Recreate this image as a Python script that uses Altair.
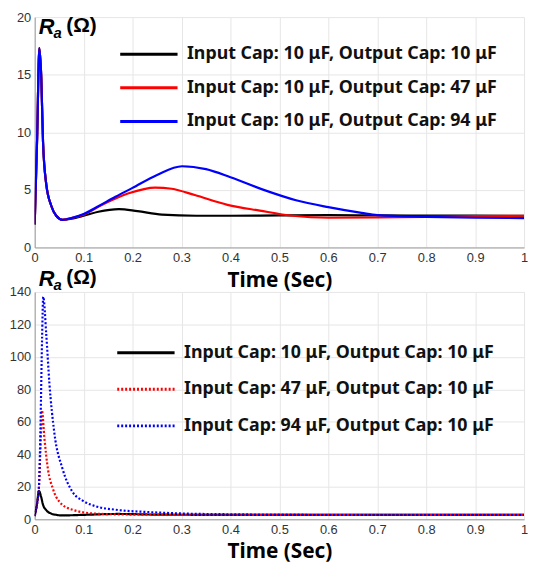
import altair as alt
import pandas as pd

# ---------------- data ----------------
labels_top = [
    "Input Cap: 10 μF, Output Cap: 10 μF",
    "Input Cap: 10 μF, Output Cap: 47 μF",
    "Input Cap: 10 μF, Output Cap: 94 μF",
]
labels_bot = [
    "Input Cap: 10 μF, Output Cap: 10 μF",
    "Input Cap: 47 μF, Output Cap: 10 μF",
    "Input Cap: 94 μF, Output Cap: 10 μF",
]

# top panel
t_top_black = [0.0, 0.005, 0.0095, 0.0135, 0.017, 0.0236, 0.034, 0.044, 0.057, 0.075, 0.10,
               0.13, 0.172, 0.21, 0.26, 0.33, 0.40, 0.50, 0.60, 0.70, 0.80, 0.90, 1.0]
v_top_black = [2.0, 9.5, 17.3, 14.7, 9.2, 5.5, 3.6, 2.75, 2.4, 2.5, 2.75,
               3.1, 3.33, 3.15, 2.85, 2.75, 2.75, 2.78, 2.8, 2.78, 2.77, 2.76, 2.75]

t_top_red = [0.0, 0.005, 0.0095, 0.0135, 0.017, 0.0236, 0.034, 0.044, 0.057, 0.075, 0.10,
             0.138, 0.192, 0.246, 0.28, 0.327, 0.394, 0.46, 0.527, 0.60, 0.70, 0.80, 0.90, 1.0]
v_top_red = [2.0, 9.5, 17.3, 14.7, 9.2, 5.5, 3.6, 2.75, 2.4, 2.55, 2.85,
             3.7, 4.7, 5.2, 5.1, 4.55, 3.7, 3.2, 2.75, 2.58, 2.6, 2.65, 2.72, 2.75]

t_top_blue = [0.0, 0.005, 0.0095, 0.0135, 0.017, 0.0236, 0.034, 0.044, 0.057, 0.075, 0.10,
              0.131, 0.165, 0.199, 0.25, 0.301, 0.35, 0.40, 0.468, 0.534, 0.60, 0.668, 0.70, 0.80, 0.90, 1.0]
v_top_blue = [2.0, 9.5, 17.3, 14.7, 9.2, 5.5, 3.6, 2.75, 2.4, 2.55, 2.9,
              3.6, 4.4, 5.15, 6.3, 7.05, 6.8, 6.1, 5.0, 4.1, 3.5, 3.0, 2.8, 2.65, 2.58, 2.55]

# bottom panel
t_bot_black = [0.0, 0.0045, 0.0087, 0.013, 0.017, 0.024, 0.034, 0.045, 0.057, 0.10,
               0.17, 0.26, 0.40, 0.60, 0.80, 1.0]
v_bot_black = [2.0, 9.0, 17.5, 14.0, 9.0, 5.5, 3.5, 2.7, 2.4, 2.75,
               3.3, 2.85, 2.75, 2.78, 2.77, 2.75]

t_bot_red = [0.0, 0.0045, 0.0087, 0.012, 0.0148, 0.020, 0.027, 0.037, 0.05, 0.077,
             0.125, 0.20, 0.30, 0.50, 0.70, 1.0]
v_bot_red = [2.0, 9.0, 20.0, 45.0, 67.0, 49.5, 31.0, 19.0, 11.0, 5.9,
             3.5, 2.9, 2.75, 2.7, 2.7, 2.7]

t_bot_blue = [0.0, 0.0045, 0.0087, 0.012, 0.015, 0.0175, 0.0236, 0.030, 0.040, 0.057,
              0.077, 0.098, 0.125, 0.165, 0.23, 0.30, 0.40, 0.50, 0.70, 1.0]
v_bot_blue = [2.0, 9.0, 20.0, 60.0, 110.0, 137.0, 114.0, 84.0, 53.6, 31.0,
              17.0, 11.5, 8.0, 5.9, 4.5, 3.6, 3.1, 2.9, 2.75, 2.7]

x_ticks = [0, 0.1, 0.2, 0.3, 0.4, 0.5, 0.6, 0.7, 0.8, 0.9, 1]
y_ticks_top = [0, 5, 10, 15, 20]
y_ticks_bot = [0, 20, 40, 60, 80, 100, 120, 140]
colors = ["#000000", "#ff0000", "#0000ff"]


def frame(ts, vs, label):
    return pd.DataFrame({"t": ts, "v": vs, "series": label})


top_df = pd.concat([
    frame(t_top_black, v_top_black, labels_top[0]),
    frame(t_top_red, v_top_red, labels_top[1]),
    frame(t_top_blue, v_top_blue, labels_top[2]),
])
bot_df = pd.concat([
    frame(t_bot_black, v_bot_black, labels_bot[0]),
    frame(t_bot_red, v_bot_red, labels_bot[1]),
    frame(t_bot_blue, v_bot_blue, labels_bot[2]),
])

# ---------------- styling ----------------
W = 495
H_TOP = 233
H_BOT = 230
GRID = "#e6e6e6"
DOMAIN = "#9a9a9a"
LABEL = "#333333"
TITLE_FONT = "Noto Sans"
TICK_FONT = "Liberation Sans"


def x_axis():
    return alt.Axis(values=x_ticks, format="~g", grid=True, gridColor=GRID,
                    domainColor=DOMAIN, ticks=False, labelFontSize=13,
                    labelColor=LABEL, labelFont=TICK_FONT, labelPadding=4,
                    labelFlush=False,
                    title="Time (Sec)", titleFontSize=21, titleFontWeight="bold",
                    titleColor="#000000", titleFont=TITLE_FONT, titlePadding=5)


def y_axis(vals):
    return alt.Axis(values=vals, grid=True, gridColor=GRID, domainColor=DOMAIN,
                    ticks=False, labelFontSize=13, labelColor=LABEL,
                    labelFont=TICK_FONT, labelPadding=4, title=None)


def legend(x, y, row_pad):
    # long horizontal line symbol drawn with a custom path on a small symbol size
    return alt.Legend(title=None, orient="none", legendX=x, legendY=y,
                      symbolType="M-2.9,0H2.9", symbolSize=400, symbolStrokeWidth=3,
                      labelFontSize=18, labelFontWeight="bold", labelFont=TITLE_FONT,
                      labelColor="#111111", labelOffset=27, labelLimit=500,
                      rowPadding=row_pad)


def ra_label(dy):
    r = alt.Chart(pd.DataFrame({"k": [0]})).mark_text(
        text="R", font="Liberation Sans", fontSize=22, fontStyle="italic",
        fontWeight="bold", align="left", baseline="alphabetic", color="#000000"
    ).encode(x=alt.value(4), y=alt.value(17 + dy))
    a = alt.Chart(pd.DataFrame({"k": [0]})).mark_text(
        text="a", font="Liberation Sans", fontSize=15, fontStyle="italic",
        fontWeight="bold", align="left", baseline="alphabetic", color="#000000"
    ).encode(x=alt.value(19), y=alt.value(21 + dy))
    om = alt.Chart(pd.DataFrame({"k": [0]})).mark_text(
        text="(Ω)", font="Liberation Sans", fontSize=21,
        fontWeight="bold", align="left", baseline="alphabetic", color="#000000"
    ).encode(x=alt.value(32), y=alt.value(15 + dy))
    return r, a, om


top_lines = alt.Chart(top_df).mark_line(strokeWidth=2.2, interpolate="monotone", clip=True).encode(
    x=alt.X("t:Q", scale=alt.Scale(domain=[0, 1], nice=False), axis=x_axis()),
    y=alt.Y("v:Q", scale=alt.Scale(domain=[0, 20], nice=False), axis=y_axis(y_ticks_top)),
    color=alt.Color("series:N", scale=alt.Scale(domain=labels_top, range=colors),
                    legend=legend(104, 26, 13)),
)

bot_legend = legend(101, 50, 16)
bot_lines = alt.Chart(bot_df).mark_line(strokeWidth=2.2, interpolate="monotone", clip=True).encode(
    x=alt.X("t:Q", scale=alt.Scale(domain=[0, 1], nice=False), axis=x_axis()),
    y=alt.Y("v:Q", scale=alt.Scale(domain=[0, 140], nice=False), axis=y_axis(y_ticks_bot)),
    color=alt.Color("series:N", scale=alt.Scale(domain=labels_bot, range=colors),
                    legend=bot_legend),
    strokeDash=alt.StrokeDash("series:N",
                              scale=alt.Scale(domain=labels_bot, range=[[1, 0], [2, 2], [2, 2]]),
                              legend=bot_legend),
)

top = alt.layer(top_lines, *ra_label(0)).properties(width=W, height=H_TOP)
bottom = alt.layer(bot_lines, *ra_label(-23)).properties(width=W, height=H_BOT)

chart = alt.vconcat(top, bottom, spacing=45, bounds="flush").resolve_scale(
    color="independent", strokeDash="independent"
).resolve_legend(color="independent", strokeDash="independent").properties(
    padding={"left": 1, "top": 0, "right": 0, "bottom": 0}
).configure_view(stroke=None)

chart.save("out.html", embed_options={"renderer": "svg", "actions": False})
